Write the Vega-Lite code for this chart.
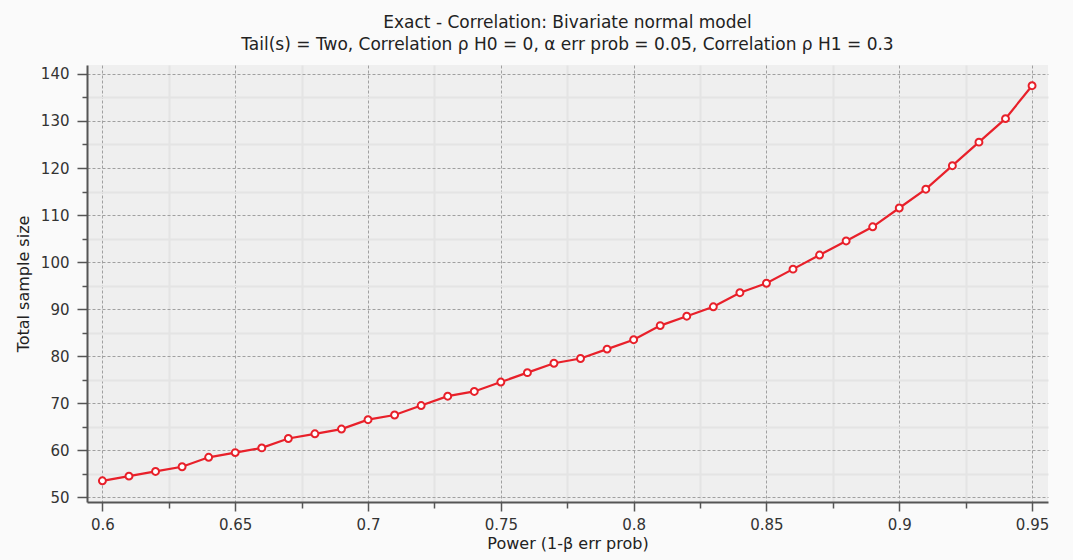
{
  "$schema": "https://vega.github.io/schema/vega-lite/v6.json",
  "width": 961,
  "height": 437,
  "autosize": {"type": "none"},
  "padding": {"left": 87, "top": 65, "right": 25, "bottom": 58},
  "background": "#fafafa",
  "title": {
    "text": "Exact - Correlation: Bivariate normal model",
    "subtitle": "Tail(s) = Two, Correlation ρ H0 = 0, α err prob = 0.05, Correlation ρ H1 = 0.3",
    "anchor": "middle",
    "frame": "group",
    "font": "DejaVu Sans",
    "fontSize": 17,
    "fontWeight": "normal",
    "color": "#222",
    "subtitleFont": "DejaVu Sans",
    "subtitleFontSize": 17,
    "subtitleColor": "#222",
    "subtitlePadding": 5,
    "offset": 11
  },
  "data": {"values": [
    {"power": 0.60, "n": 53.5}, {"power": 0.61, "n": 54.5}, {"power": 0.62, "n": 55.5},
    {"power": 0.63, "n": 56.5}, {"power": 0.64, "n": 58.5}, {"power": 0.65, "n": 59.5},
    {"power": 0.66, "n": 60.5}, {"power": 0.67, "n": 62.5}, {"power": 0.68, "n": 63.5},
    {"power": 0.69, "n": 64.5}, {"power": 0.70, "n": 66.5}, {"power": 0.71, "n": 67.5},
    {"power": 0.72, "n": 69.5}, {"power": 0.73, "n": 71.5}, {"power": 0.74, "n": 72.5},
    {"power": 0.75, "n": 74.5}, {"power": 0.76, "n": 76.5}, {"power": 0.77, "n": 78.5},
    {"power": 0.78, "n": 79.5}, {"power": 0.79, "n": 81.5}, {"power": 0.80, "n": 83.5},
    {"power": 0.81, "n": 86.5}, {"power": 0.82, "n": 88.5}, {"power": 0.83, "n": 90.5},
    {"power": 0.84, "n": 93.5}, {"power": 0.85, "n": 95.5}, {"power": 0.86, "n": 98.5},
    {"power": 0.87, "n": 101.5}, {"power": 0.88, "n": 104.5}, {"power": 0.89, "n": 107.5},
    {"power": 0.90, "n": 111.5}, {"power": 0.91, "n": 115.5}, {"power": 0.92, "n": 120.5},
    {"power": 0.93, "n": 125.5}, {"power": 0.94, "n": 130.5}, {"power": 0.95, "n": 137.5}
  ]},
  "encoding": {
    "x": {
      "field": "power", "type": "quantitative",
      "scale": {"domain": [0.5942, 0.956], "nice": false, "zero": false},
      "axis": {
        "title": "Power (1-β err prob)",
        "values": [0.6, 0.625, 0.65, 0.675, 0.7, 0.725, 0.75, 0.775, 0.8, 0.825, 0.85, 0.875, 0.9, 0.925, 0.95],
        "format": "~g",
        "labelExpr": "abs(datum.value*20 - round(datum.value*20)) < 0.001 ? datum.label : ''",
        "tickSize": {"condition": {"test": "abs(datum.value*20 - round(datum.value*20)) < 0.001", "value": 9}, "value": 6},
        "gridDash": {"condition": {"test": "abs(datum.value*20 - round(datum.value*20)) < 0.001", "value": [3, 2]}, "value": []},
        "gridColor": {"condition": {"test": "abs(datum.value*20 - round(datum.value*20)) < 0.001", "value": "#a0a0a0"}, "value": "#e4e4e4"},
        "gridWidth": {"condition": {"test": "abs(datum.value*20 - round(datum.value*20)) < 0.001", "value": 1}, "value": 2},
        "labelPadding": 6,
        "titlePadding": 3
      }
    },
    "y": {
      "field": "n", "type": "quantitative",
      "scale": {"domain": [49, 141.9], "nice": false, "zero": false},
      "axis": {
        "title": "Total sample size",
        "values": [50, 55, 60, 65, 70, 75, 80, 85, 90, 95, 100, 105, 110, 115, 120, 125, 130, 135, 140],
        "labelExpr": "datum.value % 10 == 0 ? datum.label : ''",
        "tickSize": {"condition": {"test": "datum.value % 10 == 0", "value": 10}, "value": 5},
        "gridDash": {"condition": {"test": "datum.value % 10 == 0", "value": [3, 2]}, "value": []},
        "gridColor": {"condition": {"test": "datum.value % 10 == 0", "value": "#a0a0a0"}, "value": "#e4e4e4"},
        "gridWidth": {"condition": {"test": "datum.value % 10 == 0", "value": 1}, "value": 2},
        "labelPadding": 8,
        "titlePadding": 9
      }
    }
  },
  "layer": [
    {"mark": {"type": "line", "color": "#e8202a", "strokeWidth": 2.2}},
    {"mark": {"type": "point", "shape": "circle", "filled": true, "fill": "white", "stroke": "#e8202a", "strokeWidth": 2, "size": 48, "opacity": 1}}
  ],
  "config": {
    "view": {"fill": "#efefef", "stroke": null},
    "axis": {
      "domainColor": "#555",
      "domainWidth": 2,
      "tickColor": "#555",
      "tickWidth": 1.5,
      "labelFont": "DejaVu Sans",
      "labelFontSize": 15,
      "labelColor": "#333",
      "titleFont": "DejaVu Sans",
      "titleFontSize": 16,
      "titleFontWeight": "normal",
      "titleColor": "#222"
    }
  }
}
